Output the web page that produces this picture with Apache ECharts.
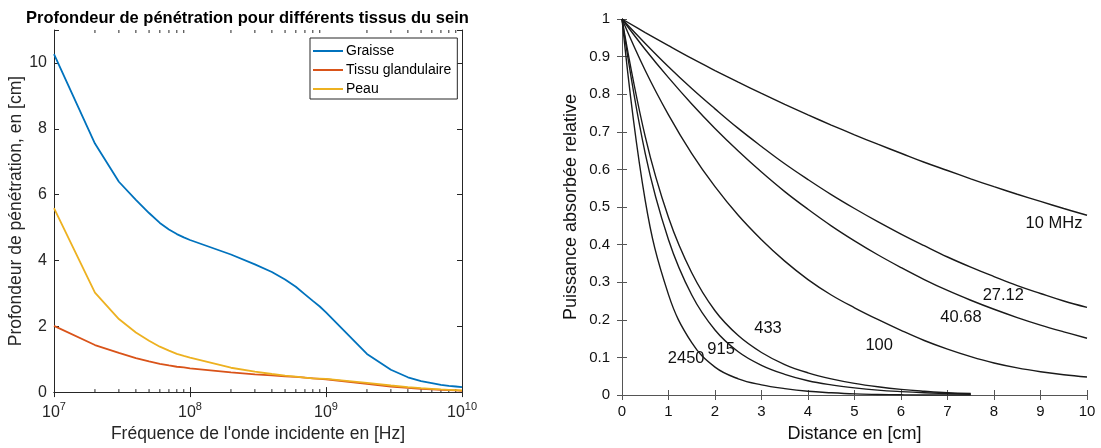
<!DOCTYPE html>
<html><head><meta charset="utf-8">
<script src="https://cdn.jsdelivr.net/npm/echarts@6/dist/echarts.min.js"></script>
<style>html,body{margin:0;padding:0;background:#fff}#c{width:1101px;height:448px}</style>
</head><body><div id="c"></div>
<script>
// ---- Left chart data ----
const freqs = [1e7,2e7,3e7,4e7,5e7,6e7,7e7,8e7,9e7,1e8,2e8,3e8,4e8,5e8,6e8,7e8,8e8,9e8,1e9,2e9,3e9,4e9,5e9,6e9,7e9,8e9,9e9,1e10];
const graisse = [10.27,7.55,6.39,5.84,5.44,5.14,4.94,4.80,4.70,4.62,4.18,3.88,3.65,3.42,3.20,2.97,2.77,2.60,2.42,1.16,0.68,0.45,0.33,0.27,0.22,0.19,0.17,0.15];
const glandulaire = [2.01,1.43,1.19,1.03,0.93,0.86,0.81,0.77,0.75,0.72,0.60,0.54,0.51,0.48,0.46,0.44,0.42,0.40,0.39,0.25,0.17,0.13,0.10,0.08,0.07,0.06,0.05,0.04];
const peau = [5.59,3.02,2.22,1.81,1.56,1.38,1.26,1.16,1.10,1.05,0.74,0.62,0.55,0.50,0.47,0.44,0.42,0.41,0.40,0.28,0.20,0.15,0.12,0.10,0.08,0.07,0.06,0.05];
const leftSeriesNames = ['Graisse','Tissu glandulaire','Peau'];
const minorTickValues = [2e7,3e7,4e7,5e7,6e7,7e7,8e7,9e7,2e8,3e8,4e8,5e8,6e8,7e8,8e8,9e8,2e9,3e9,4e9,5e9,6e9,7e9,8e9,9e9];

// ---- Right chart data ----
const distances = [0,0.5,1,1.5,2,2.5,3,3.5,4,4.5,5,5.5,6,6.5,7,7.5,8,8.5,9,9.5,10];
const p10 = [1,0.964,0.929,0.895,0.863,0.832,0.802,0.773,0.745,0.718,0.692,0.667,0.643,0.619,0.597,0.575,0.554,0.534,0.515,0.496,0.478];
const p27 = [1,0.935,0.873,0.815,0.761,0.709,0.661,0.615,0.573,0.533,0.496,0.461,0.428,0.397,0.367,0.340,0.315,0.291,0.270,0.250,0.233];
const p40 = [1,0.919,0.844,0.774,0.709,0.649,0.593,0.541,0.494,0.450,0.410,0.373,0.339,0.307,0.278,0.252,0.228,0.206,0.186,0.168,0.151];
const p100 = [1,0.863,0.745,0.642,0.554,0.478,0.413,0.356,0.307,0.266,0.232,0.201,0.172,0.145,0.122,0.102,0.085,0.072,0.062,0.054,0.048];
const p433 = [1,0.687,0.472,0.325,0.224,0.158,0.113,0.081,0.059,0.043,0.031,0.022,0.015,0.010,0.006,0.004];
const p915 = [1,0.642,0.413,0.266,0.173,0.115,0.079,0.055,0.038,0.027,0.019,0.013,0.009,0.006,0.004,0.002];
const p2450 = [1,0.517,0.267,0.139,0.074,0.043,0.027,0.017,0.010,0.006,0.003,0.0015,0.0005,0,0,0];
const rightNames = ['10 MHz','27.12','40.68','100','433','915','2450'];

const FONT = '"Liberation Sans", Arial, Helvetica, sans-serif';
const AX = '#262626';

function pairs(xs, ys){ return ys.map((y,i)=>[xs[i], y]); }

const chart = echarts.init(document.getElementById('c'), null, {renderer:'canvas'});

const leftColors = ['#0072BD','#D95319','#EDB120'];
const leftData = [graisse, glandulaire, peau];

const leftSeries = leftData.map((d,i)=>({
  name: leftSeriesNames[i], type:'line', xAxisIndex:0, yAxisIndex:0,
  data: pairs(freqs, d), showSymbol:false, symbol:'none', smooth:false,
  lineStyle:{color:leftColors[i], width:1.8}, itemStyle:{color:leftColors[i]}, z:5
}));

const minorSeries = {
  type:'custom', xAxisIndex:0, yAxisIndex:0, silent:true, z:4,
  data: minorTickValues.map(v=>[v,0]),
  renderItem: function(params, api){
    const v = api.value(0);
    const b = api.coord([v, 0]);
    const t = api.coord([v, 11]);
    const st = {stroke:AX, lineWidth:1};
    return {type:'group', children:[
      {type:'line', shape:{x1:b[0], y1:b[1], x2:b[0], y2:b[1]-3}, style:st},
      {type:'line', shape:{x1:t[0], y1:t[1], x2:t[0], y2:t[1]+3}, style:st}
    ]};
  }
};

const rightData = [p10,p27,p40,p100,p433,p915,p2450];
const labelCoords = [[9.29,0.456],[8.2,0.266],[7.29,0.206],[5.53,0.133],[3.14,0.176],[2.13,0.120],[1.38,0.098]];
const rightSeries = rightData.map((d,i)=>({
  name: rightNames[i], type:'line', xAxisIndex:2, yAxisIndex:2,
  data: pairs(distances, d), showSymbol:false, symbol:'none', smooth:0.4,
  lineStyle:{color:'#1a1a1a', width:1.4}, itemStyle:{color:'#1a1a1a'}, z:5,
  markPoint:{
    symbol:'circle', symbolSize:1, itemStyle:{color:'rgba(0,0,0,0)'}, silent:true,
    label:{show:true, position:'inside', formatter: rightNames[i], color:'#111', fontFamily:FONT, fontSize:16.5},
    data:[{coord: labelCoords[i]}]
  }
}));

const logLabel = v => {
  const e = Math.round(Math.log10(v));
  return '{b|10}{s|' + e + '}';
};

const option = {
  animation:false,
  backgroundColor:'#fff',
  title:{
    text:'Profondeur de pénétration pour différents tissus du sein',
    left:21, top:5,
    textStyle:{fontFamily:FONT, fontSize:16.5, fontWeight:'bold', color:'#000'}
  },
  legend:{
    data: leftSeriesNames,
    orient:'vertical', left:310, top:38,
    icon:'rect', itemWidth:30, itemHeight:2, itemGap:5,
    padding:[6,6,3,3],
    borderColor:AX, borderWidth:1, backgroundColor:'#fff',
    textStyle:{fontFamily:FONT, fontSize:14, color:'#000', padding:[0,0,0,-2]},
    selectedMode:false
  },
  grid:[
    {left:54, right:639, top:30, bottom:55, containLabel:false},
    {left:622, right:14, top:19, bottom:52, containLabel:false}
  ],
  xAxis:[
    {gridIndex:0, type:'log', logBase:10, min:1e7, max:1e10, position:'bottom',
     axisLine:{show:true, lineStyle:{color:AX, width:1}},
     axisTick:{show:true, inside:true, length:5, lineStyle:{color:AX}},
     minorTick:{show:false},
     splitLine:{show:false},
     axisLabel:{formatter:logLabel, margin:9, color:AX, fontFamily:FONT,
       rich:{b:{fontSize:16, fontFamily:FONT, color:AX, verticalAlign:'bottom'},
             s:{fontSize:11, fontFamily:FONT, color:AX, verticalAlign:'top', padding:[0,0,8,0]}}},
     name:"Fréquence de l'onde incidente en [Hz]", nameLocation:'middle', nameGap:32,
     nameTextStyle:{fontFamily:FONT, fontSize:17.5, color:AX}},
    {gridIndex:0, type:'log', logBase:10, min:1e7, max:1e10, position:'top',
     axisLine:{show:true, lineStyle:{color:AX, width:1}},
     axisTick:{show:true, inside:true, length:5, lineStyle:{color:AX}},
     axisLabel:{show:false}, splitLine:{show:false}},
    {gridIndex:1, type:'value', min:0, max:10, interval:1, position:'bottom',
     axisLine:{show:true, lineStyle:{color:'#555', width:1}},
     axisTick:{show:true, inside:true, length:5, lineStyle:{color:'#555'}},
     splitLine:{show:false},
     axisLabel:{margin:9, color:'#111', fontFamily:FONT, fontSize:15},
     name:'Distance en [cm]', nameLocation:'middle', nameGap:30,
     nameTextStyle:{fontFamily:FONT, fontSize:18, color:'#111'}},
    {gridIndex:1, type:'value', min:0, max:10, interval:1, position:'top',
     axisLine:{show:true, lineStyle:{color:'#555', width:1}},
     axisTick:{show:true, inside:true, length:5, lineStyle:{color:'#555'}},
     axisLabel:{show:false}, splitLine:{show:false}}
  ],
  yAxis:[
    {gridIndex:0, type:'value', min:0, max:11, interval:2, position:'left',
     axisLine:{show:true, lineStyle:{color:AX, width:1}},
     axisTick:{show:true, inside:true, length:5, lineStyle:{color:AX}},
     splitLine:{show:false},
     axisLabel:{formatter:v=> v>10 ? '' : String(v), margin:7, color:AX, fontFamily:FONT, fontSize:16},
     name:'Profondeur de pénétration, en [cm]', nameLocation:'middle', nameGap:26, nameRotate:90,
     nameTextStyle:{fontFamily:FONT, fontSize:17.5, color:AX}},
    {gridIndex:0, type:'value', min:0, max:11, interval:2, position:'right',
     axisLine:{show:true, lineStyle:{color:AX, width:1}},
     axisTick:{show:true, inside:true, length:5, lineStyle:{color:AX}},
     axisLabel:{show:false}, splitLine:{show:false}},
    {gridIndex:1, type:'value', min:0, max:1, interval:0.1, position:'left',
     axisLine:{show:true, lineStyle:{color:'#555', width:1}},
     axisTick:{show:true, inside:true, length:5, lineStyle:{color:'#555'}},
     splitLine:{show:false},
     axisLabel:{formatter:v=> (v===0||v===1) ? String(v) : v.toFixed(1), margin:12, color:'#111', fontFamily:FONT, fontSize:15},
     name:'Puissance absorbée relative', nameLocation:'middle', nameGap:42, nameRotate:90,
     nameTextStyle:{fontFamily:FONT, fontSize:18, color:'#111'}},
    {gridIndex:1, type:'value', min:0, max:1, interval:0.1, position:'right',
     axisLine:{show:true, lineStyle:{color:'#555', width:1}},
     axisTick:{show:true, inside:true, length:5, lineStyle:{color:'#555'}},
     axisLabel:{show:false}, splitLine:{show:false}}
  ],
  series: [...leftSeries, minorSeries, ...rightSeries]
};
chart.setOption(option);
</script>
</body></html>
